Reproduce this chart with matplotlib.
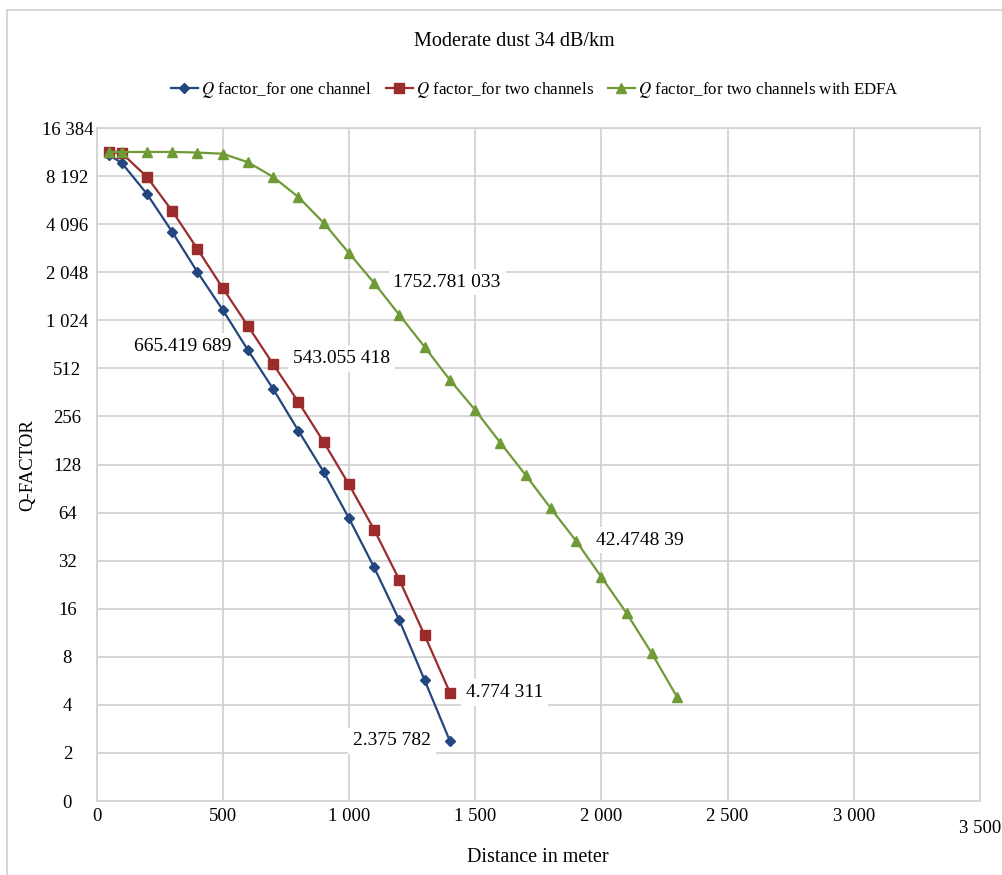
import matplotlib
matplotlib.use("Agg")
import matplotlib.pyplot as plt
from matplotlib.lines import Line2D

plt.rcParams['font.family'] = ['Liberation Serif', 'DejaVu Serif']
plt.rcParams['mathtext.fontset'] = 'stix'

# distance (m) and Q factor per series
dist_one = [50, 100, 200, 300, 400, 500, 600, 700, 800, 900, 1000, 1100, 1200, 1300, 1400]
q_one = [11100, 9900, 6330, 3660, 2050, 1190, 665.419689, 380, 208, 115, 59, 29, 13.5, 5.7, 2.375782]

dist_two = [50, 100, 200, 300, 400, 500, 600, 700, 800, 900, 1000, 1100, 1200, 1300, 1400]
q_two = [11600, 11400, 8090, 4950, 2860, 1630, 943, 543.055418, 315, 177, 96, 50, 24.2, 10.9, 4.774311]

dist_edfa = [50, 100, 200, 300, 400, 500, 600, 700, 800, 900, 1000, 1100, 1200,
             1300, 1400, 1500, 1600, 1700, 1800, 1900, 2000, 2100, 2200, 2300]
q_edfa = [11600, 11600, 11600, 11600, 11500, 11300, 10000, 8090, 6050, 4170, 2700, 1752.781033, 1105,
          697, 433, 281, 175, 110, 68, 42.474839, 25.3, 15.0, 8.4, 4.48]

series_names = [r"$Q$ factor_for one channel", r"$Q$ factor_for two channels",
                r"$Q$ factor_for two channels with EDFA"]

y_ticks = [1, 2, 4, 8, 16, 32, 64, 128, 256, 512, 1024, 2048, 4096, 8192, 16384]
y_labels = ["0", "2", "4", "8", "16", "32", "64", "128", "256", "512",
            "1 024", "2 048", "4 096", "8 192", "16 384"]
x_ticks = [0, 500, 1000, 1500, 2000, 2500, 3000, 3500]
x_labels = ["0", "500", "1 000", "1 500", "2 000", "2 500", "3 000", "3 500"]

blue = '#24467F'
red = '#9C2B2B'
green = '#6F9A36'
grid_c = '#D3D3D3'

fig = plt.figure(figsize=(10.02, 8.75), dpi=100)
ax = fig.add_axes([96.5 / 1002, 74 / 875, 883.5 / 1002, 673 / 875])

ax.plot(dist_one, q_one, color=blue, marker='D', markersize=5.5, linewidth=1.6, label=series_names[0], zorder=3)
ax.plot(dist_two, q_two, color=red, marker='s', markersize=7, linewidth=1.6, label=series_names[1], zorder=3)
ax.plot(dist_edfa, q_edfa, color=green, marker='^', markersize=7.5, linewidth=1.6, label=series_names[2], zorder=3)

ax.set_yscale('log', base=2)
ax.set_ylim(1, 16384)
ax.set_xlim(0, 3500)
ax.set_yticks(y_ticks)
ax.set_yticklabels(y_labels)
ax.minorticks_off()
ax.set_xticks(x_ticks)
ax.set_xticklabels(x_labels)
ax.tick_params(length=0, labelsize=13.5)
ax.tick_params(axis='y', pad=21)
for lab in ax.get_yticklabels():
    lab.set_horizontalalignment('center')
ax.tick_params(axis='x', pad=5)
ax.xaxis.get_major_ticks()[-1].set_pad(14)

ax.grid(True, color=grid_c, linewidth=1.3)
ax.set_axisbelow(True)
for s in ax.spines.values():
    s.set_color(grid_c)
    s.set_linewidth(1.3)

# data labels
box = dict(boxstyle='square,pad=0.25', fc='white', ec='none')
labels = [
    (dist_one[6], q_one[6], "665.419 689", -65, 4),
    (dist_two[7], q_two[7], "543.055 418", 68, 6),
    (dist_edfa[11], q_edfa[11], "1752.781 033", 73, 1),
    (dist_edfa[19], q_edfa[19], "42.4748 39", 64, 1),
    (dist_two[14], q_two[14], "4.774 311", 55, 0),
    (dist_one[14], q_one[14], "2.375 782", -58, 0),
]
for x, y, txt, dx, dy in labels:
    ax.annotate(txt, (x, y), xytext=(dx, dy), textcoords='offset pixels',
                ha='center', va='center', fontsize=14, bbox=box, zorder=2.5)

fig.text(514 / 1002, 1 - 41 / 875, "Moderate dust 34 dB/km", ha='center', va='center', fontsize=14.5)
fig.text(538 / 1002, 1 - 857 / 875, "Distance in meter", ha='center', va='center', fontsize=14.5)
fig.text(28 / 1002, 1 - 465 / 875, "Q-FACTOR", ha='center', va='center', rotation=90, fontsize=13.5)

fig.legend(loc='center', bbox_to_anchor=(535 / 1002, 1 - 90 / 875), ncol=3, frameon=False,
           fontsize=12.2, handlelength=1.6, handletextpad=0.2, columnspacing=0.8)

# outer chart border
fig.add_artist(Line2D([7 / 1002, 1], [1 - 10 / 875, 1 - 10 / 875], color=grid_c, linewidth=1.3))
fig.add_artist(Line2D([7 / 1002, 7 / 1002], [0, 1 - 10 / 875], color=grid_c, linewidth=1.3))

fig.savefig("out.png", dpi=100)
